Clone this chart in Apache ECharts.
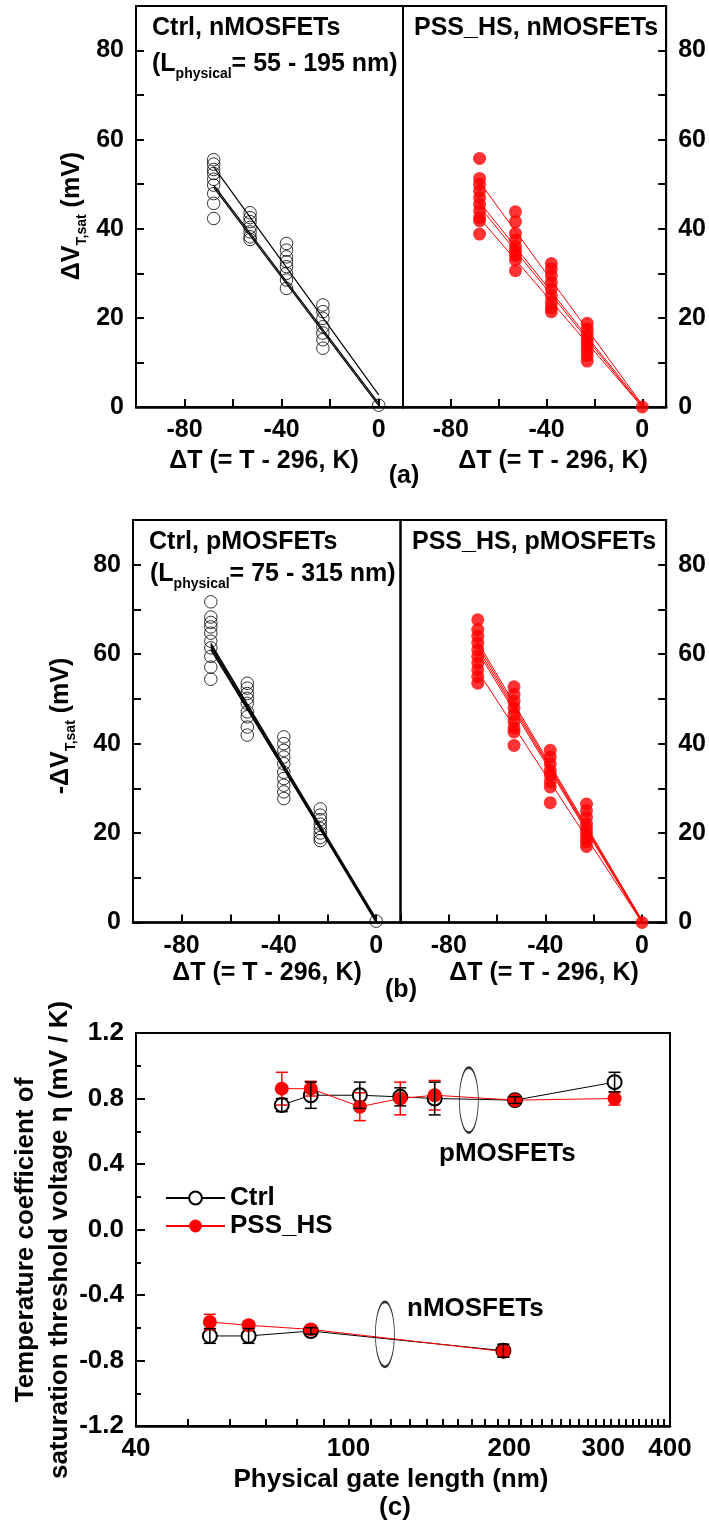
<!DOCTYPE html>
<html><head><meta charset="utf-8">
<script src="https://cdn.jsdelivr.net/npm/echarts@6/dist/echarts.min.js"></script>
<style>html,body{margin:0;padding:0;background:#fff}#c{width:709px;height:1524px}</style>
</head><body><div id="c"></div>
<script>
const FF = "'Liberation Sans', Arial, sans-serif";

// ---------- panels (a),(b): ΔT columns ----------
const dT = [-68, -53, -38, -23, 0];
const fitT = [-68, 0];
const dTLabels = [-80, -40, 0];
const vLabels = [0, 20, 40, 60, 80];

// (a) nMOSFETs
const nCtrlCols = [
  [55.5, 54.5, 53.3, 52.4, 51.1, 49.8, 47.9, 45.7, 42.3],
  [43.6, 42.5, 41.6, 40.3, 39.3, 38.2, 37.6],
  [36.7, 35.2, 33.7, 32.6, 31.5, 30.0, 28.5, 26.6],
  [22.9, 21.4, 19.9, 18.0, 16.6, 15.1, 13.2],
  [0.4]
];
const nCtrlFits = [[53.9, 2.7], [49.8, 0.8], [49.3, 0.3]];
const nPssCols = [
  [55.8, 51.3, 50.0, 48.5, 47.0, 45.5, 44.0, 42.5, 41.8, 38.8],
  [43.8, 41.6, 39.0, 37.5, 36.0, 35.0, 34.0, 33.0, 30.6],
  [32.2, 31.0, 29.5, 28.0, 26.5, 25.0, 23.5, 22.3, 21.4],
  [18.8, 17.5, 16.5, 15.5, 14.5, 13.5, 12.5, 11.5, 10.3],
  [0]
];
const nPssFits = [[50.5, 0.5], [46.0, 0.3], [45.0, 0.0], [42.4, 0.0]];

// (b) pMOSFETs
const pCtrlCols = [
  [71.7, 68.3, 67.1, 66.1, 64.7, 62.9, 61.4, 59.5, 57.1, 54.4],
  [53.5, 52.4, 51.2, 50.1, 49.0, 47.1, 46.0, 43.7, 41.9],
  [41.5, 40.0, 38.5, 37.0, 35.5, 33.6, 32.2, 30.7, 29.2, 27.7],
  [25.4, 24.0, 23.0, 22.0, 21.0, 20.0, 19.0, 18.3],
  [0.3]
];
const pCtrlFits = [[62.4, 0.8], [62.0, 0.3], [61.5, 0.0], [61.0, 0.5]];
const pPssCols = [
  [67.7, 65.5, 64.0, 62.5, 61.0, 59.5, 58.0, 56.5, 55.0, 53.5],
  [52.7, 51.0, 49.5, 48.0, 46.5, 45.0, 43.5, 42.6, 39.6],
  [38.5, 37.0, 35.5, 34.0, 33.0, 31.5, 30.3, 26.8],
  [26.5, 25.0, 23.5, 22.0, 21.0, 20.0, 19.0, 18.0, 17.0],
  [0]
];
const pPssFits = [[62.7, 0.5], [62.0, 0.3], [61.3, 0.2], [60.6, 0.0], [56.2, 0.0]];

// ---------- panel (c) ----------
const pLen = [75, 85, 105, 125, 145, 205, 315];
const pCtrlEta = [0.76, 0.82, 0.82, 0.81, 0.80, 0.79, 0.90];
const pCtrlErr = [0.04, 0.08, 0.08, 0.055, 0.10, 0.02, 0.06];
const pPssEta = [0.86, 0.86, 0.75, 0.80, 0.82, 0.79, 0.80];
const pPssErr = [0.10, 0.045, 0.085, 0.10, 0.09, 0.02, 0.04];
const nLen = [55, 65, 85, 195];
const nCtrlEta = [-0.65, -0.65, -0.62, -0.74];
const nCtrlErr = [0.045, 0.045, 0.02, 0.04];
const nPssEta = [-0.565, -0.585, -0.61, -0.745];
const nPssErr = [0.047, 0.02, 0.02, 0.03];
const ellipseAt = [[168, 0.79], [117, -0.64]];
const lenLabels = [40, 100, 200, 300, 400];
const lenTicks = [40, 50, 60, 70, 80, 90, 100, 110, 120, 130, 140, 150, 160, 170, 180, 190, 200,
  210, 220, 230, 240, 250, 260, 270, 280, 290, 300, 310, 320, 330, 340, 350, 360, 370, 380, 390, 400];

// ---------- helpers ----------
const txt = (size) => ({ color: '#000', fontSize: size, fontWeight: 'bold', fontFamily: FF });
const pts = (cols) => cols.flatMap((col, i) => col.map(v => [dT[i], v]));

function dtX(gi) {
  return {
    type: 'value', gridIndex: gi, min: -100, max: 10, interval: 20,
    axisLine: { show: true, onZero: false, lineStyle: { color: '#000', width: 2.5 } },
    axisTick: { show: true, inside: true, length: 8, lineStyle: { color: '#000', width: 2 } },
    splitLine: { show: false },
    axisLabel: Object.assign(txt(25), { margin: 11, formatter: v => dTLabels.includes(v) ? String(v) : '' })
  };
}
function vY(gi, pos) {
  return {
    type: 'value', gridIndex: gi, position: pos, min: 0, max: 90, interval: 10,
    axisLine: { show: true, onZero: false, lineStyle: { color: '#000', width: 2 } },
    axisTick: { show: true, inside: true, length: 8, lineStyle: { color: '#000', width: 2 } },
    splitLine: { show: false },
    axisLabel: Object.assign(txt(25), { margin: 12, formatter: v => vLabels.includes(v) ? String(v) : '' })
  };
}
function scatterOpen(gi, cols) {
  return { type: 'scatter', xAxisIndex: gi, yAxisIndex: gi, data: pts(cols), symbol: 'circle', symbolSize: 12.5,
    itemStyle: { color: 'rgba(0,0,0,0)', borderColor: '#000', borderWidth: 1 }, z: 2, silent: true };
}
function scatterFilled(gi, cols) {
  return { type: 'scatter', xAxisIndex: gi, yAxisIndex: gi, data: pts(cols), symbol: 'circle', symbolSize: 13,
    itemStyle: { color: '#ff0000' }, z: 2, silent: true };
}
function fitLines(gi, fits, color, w) {
  return fits.map(f => ({ type: 'line', xAxisIndex: gi, yAxisIndex: gi, data: [[fitT[0], f[0]], [fitT[1], f[1]]],
    symbol: 'none', lineStyle: { color: color, width: w }, z: 3, silent: true }));
}
function errBars(x, y, e, color) {
  return { type: 'custom', xAxisIndex: 4, yAxisIndex: 4, z: 5, silent: true,
    data: x.map((v, i) => [v, y[i], e[i]]),
    encode: { x: 0, y: 1 },
    renderItem: (params, api) => {
      const xv = api.value(0), yv = api.value(1), ev = api.value(2);
      const t = api.coord([xv, yv + ev]), b = api.coord([xv, yv - ev]);
      const hw = 6, st = { stroke: color, lineWidth: 1.5 };
      return { type: 'group', children: [
        { type: 'line', shape: { x1: t[0], y1: t[1], x2: b[0], y2: b[1] }, style: st },
        { type: 'line', shape: { x1: t[0] - hw, y1: t[1], x2: t[0] + hw, y2: t[1] }, style: st },
        { type: 'line', shape: { x1: b[0] - hw, y1: b[1], x2: b[0] + hw, y2: b[1] }, style: st }
      ] };
    }
  };
}
function etaLine(name, x, y, filled) {
  return { type: 'line', name: name, xAxisIndex: 4, yAxisIndex: 4, data: x.map((v, i) => [v, y[i]]),
    symbol: filled ? 'circle' : 'emptyCircle', symbolSize: 14,
    lineStyle: { color: filled ? '#ff0000' : '#000', width: 1 },
    itemStyle: { color: filled ? '#ff0000' : '#000', borderWidth: 1 }, z: 4 };
}

const gridStyle = { show: true, borderColor: '#000', borderWidth: 2, containLabel: false };
const grids = [
  Object.assign({ left: 136, top: 6, width: 267, height: 401 }, gridStyle),
  Object.assign({ left: 403, top: 6, width: 267, height: 401 }, gridStyle),
  Object.assign({ left: 133, top: 520, width: 267.5, height: 402.5 }, gridStyle),
  Object.assign({ left: 400.5, top: 520, width: 268.5, height: 402.5 }, gridStyle),
  Object.assign({ left: 136, top: 1033, width: 534, height: 393 }, gridStyle)
];

const xAxes = [dtX(0), dtX(1), dtX(2), dtX(3), {
  type: 'log', gridIndex: 4, min: 40, max: 400, logBase: 10,
  axisLine: { show: true, onZero: false, lineStyle: { color: '#000', width: 2.5 } },
  axisTick: { show: true, inside: true, length: 7, customValues: lenTicks, lineStyle: { color: '#000', width: 2 } },
  minorTick: { show: false }, splitLine: { show: false },
  axisLabel: Object.assign(txt(26), { margin: 10, customValues: lenLabels, showMinLabel: true, showMaxLabel: true })
}];
const yAxes = [vY(0, 'left'), vY(1, 'right'), vY(2, 'left'), vY(3, 'right'), {
  type: 'value', gridIndex: 4, min: -1.2, max: 1.2, interval: 0.4,
  axisLine: { show: true, onZero: false, lineStyle: { color: '#000', width: 2 } },
  axisTick: { show: true, inside: true, length: 9, lineStyle: { color: '#000', width: 2 } },
  minorTick: { show: true, splitNumber: 2, length: 5, lineStyle: { color: '#000', width: 2 } },
  splitLine: { show: false },
  axisLabel: Object.assign(txt(26), { margin: 12, formatter: v => v.toFixed(1) })
}];

const series = [
  scatterOpen(0, nCtrlCols), ...fitLines(0, nCtrlFits, '#000', 1.2),
  scatterFilled(1, nPssCols), ...fitLines(1, nPssFits, '#ff0000', 1),
  scatterOpen(2, pCtrlCols), ...fitLines(2, pCtrlFits, '#000', 1.3),
  scatterFilled(3, pPssCols), ...fitLines(3, pPssFits, '#ff0000', 1),
  etaLine('Ctrl', pLen, pCtrlEta, false), etaLine('Ctrl', nLen, nCtrlEta, false),
  etaLine('PSS_HS', pLen, pPssEta, true), etaLine('PSS_HS', nLen, nPssEta, true),
  errBars(pLen, pPssEta, pPssErr, '#ff0000'), errBars(nLen, nPssEta, nPssErr, '#ff0000'),
  errBars(pLen, pCtrlEta, pCtrlErr, '#000'), errBars(nLen, nCtrlEta, nCtrlErr, '#000'),
  { type: 'scatter', name: 'ellipse', xAxisIndex: 4, yAxisIndex: 4, data: ellipseAt, symbol: 'circle',
    symbolSize: [19, 65], itemStyle: { color: 'rgba(0,0,0,0)', borderColor: '#000', borderWidth: 1.5 }, z: 6, silent: true }
];

function T(x, y, text, size, align, rot) {
  return { type: 'text', x: x, y: y, rotation: rot || 0, silent: true,
    style: { text: text, fill: '#000', font: 'bold ' + size + 'px ' + FF, textAlign: align || 'left', textVerticalAlign: 'middle' } };
}
function R(x, y, text, rich, align, rot) {
  return { type: 'text', x: x, y: y, rotation: rot || 0, silent: true,
    style: { text: text, rich: rich, textAlign: align || 'left', textVerticalAlign: 'middle' } };
}
const richSub = (main, sub) => ({
  m: { fill: '#000', fontSize: main, fontWeight: 'bold', fontFamily: FF, lineHeight: 34, verticalAlign: 'middle' },
  s: { fill: '#000', fontSize: sub, fontWeight: 'bold', fontFamily: FF, lineHeight: 34, verticalAlign: 'bottom' }
});

const graphics = [
  T(152, 28, 'Ctrl, nMOSFETs', 25),
  R(152, 64, '{m|(L}{s|physical}{m|= 55 - 195 nm)}', richSub(25, 14)),
  T(414, 28, 'PSS_HS, nMOSFETs', 25),
  R(72, 216, '{m|ΔV}{s|T,sat}{m| (mV)}', richSub(25, 14), 'center', Math.PI / 2),
  T(264, 461, 'ΔT (= T - 296, K)', 25, 'center'),
  T(553, 461, 'ΔT (= T - 296, K)', 25, 'center'),
  T(404, 476, '(a)', 25, 'center'),

  T(149, 542, 'Ctrl, pMOSFETs', 25),
  R(150, 574, '{m|(L}{s|physical}{m|= 75 - 315 nm)}', richSub(25, 14)),
  T(412, 542, 'PSS_HS, pMOSFETs', 25),
  R(61, 726, '{m|-ΔV}{s|T,sat}{m| (mV)}', richSub(25, 14), 'center', Math.PI / 2),
  T(267, 973, 'ΔT (= T - 296, K)', 25, 'center'),
  T(544, 973, 'ΔT (= T - 296, K)', 25, 'center'),
  T(401, 990, '(b)', 25, 'center'),

  T(26, 1240, 'Temperature coefficient of', 26, 'center', Math.PI / 2),
  T(60, 1240, 'saturation threshold voltage η (mV / K)', 26, 'center', Math.PI / 2),
  T(391, 1480, 'Physical gate length (nm)', 26, 'center'),
  T(395, 1508, '(c)', 26, 'center'),
  T(439, 1154, 'pMOSFETs', 26),
  T(407, 1309, 'nMOSFETs', 26)
];

const chart = echarts.init(document.getElementById('c'), null, { renderer: 'canvas' });
chart.setOption({
  animation: false,
  backgroundColor: '#fff',
  grid: grids,
  xAxis: xAxes,
  yAxis: yAxes,
  series: series,
  legend: {
    data: ['Ctrl', 'PSS_HS'], orient: 'vertical', left: 160, top: 1180,
    itemWidth: 59, itemHeight: 16, itemGap: 2, selectedMode: false,
    textStyle: txt(26)
  },
  graphic: graphics
});
</script></body></html>
